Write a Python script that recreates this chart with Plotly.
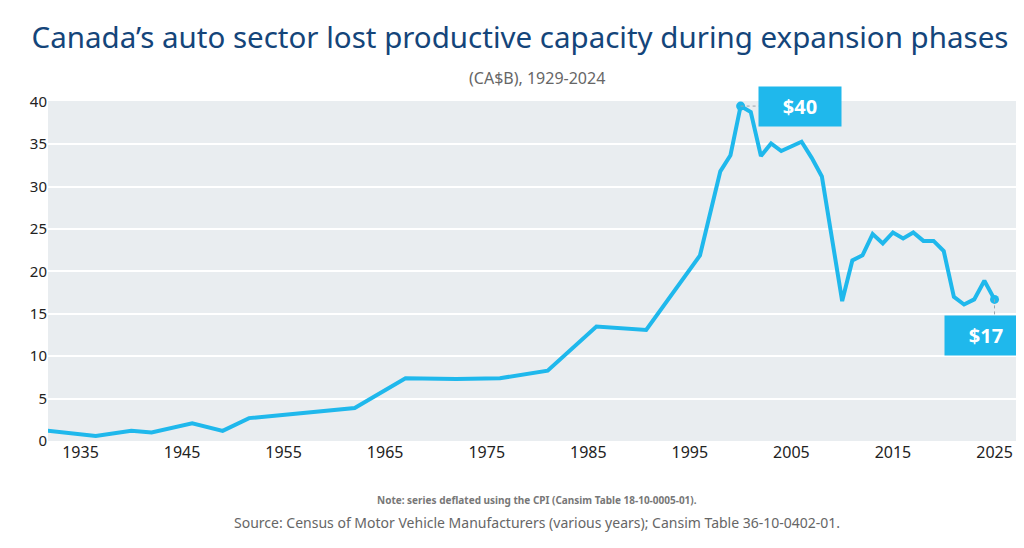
import plotly.graph_objects as go

years = [1931, 1936.5, 1940, 1942, 1946, 1949, 1951.6, 1957.4, 1962, 1967, 1972, 1976.3,
         1981, 1985.8, 1990.7, 1996, 1998, 1999, 2000, 2001, 2002, 2003, 2004, 2006,
         2007, 2008, 2010, 2011, 2012, 2013, 2014, 2015, 2016, 2017, 2018, 2019, 2020,
         2021, 2022, 2023, 2024, 2025]
values = [1.3, 0.6, 1.2, 1.0, 2.1, 1.2, 2.7, 3.4, 3.9, 7.4, 7.3, 7.4,
          8.3, 13.5, 13.1, 21.9, 31.8, 33.7, 39.5, 38.8, 33.6, 35.1, 34.2, 35.3,
          33.4, 31.2, 16.5, 21.3, 21.9, 24.4, 23.3, 24.6, 23.9, 24.6, 23.6, 23.6, 22.4,
          17.0, 16.1, 16.7, 18.9, 16.7]
peak_x, peak_y = 2000, 39.5
last_x, last_y = 2025, 16.7

blue = "#1fb8ec"
font = "Noto Sans"

fig = go.Figure()
fig.add_trace(go.Scatter(x=years, y=values, mode="lines",
                         line=dict(color=blue, width=4), hoverinfo="x+y"))
fig.add_trace(go.Scatter(x=[peak_x, last_x], y=[peak_y, last_y], mode="markers",
                         marker=dict(color=blue, size=9), hoverinfo="skip"))

# dotted leader lines to the callouts
fig.add_shape(type="line", x0=peak_x, y0=peak_y, x1=2001.8, y1=peak_y,
              line=dict(color="#9aa5ad", width=1, dash="dot"))
fig.add_shape(type="line", x0=last_x, y0=last_y, x1=last_x, y1=14.6,
              line=dict(color="#9aa5ad", width=1, dash="dot"))

for x, y, label in [(2005.8, 39.4, "$40"), (2024.2, 12.4, "$17")]:
    fig.add_annotation(x=x, y=y, xref="x", yref="y", text="<b>" + label + "</b>",
                       showarrow=False, bgcolor=blue, borderpad=6,
                       font=dict(color="white", size=20, family=font),
                       width=70)

fig.update_layout(
    width=1024, height=548,
    margin=dict(l=40, r=6, t=93, b=115),
    paper_bgcolor="white", plot_bgcolor="#e9edf0",
    showlegend=False,
    font=dict(family=font, color="#222222"),
    title=dict(text="Canada’s auto sector lost productive capacity during expansion phases",
               x=0.5, xanchor="center", y=0.945, yanchor="middle",
               font=dict(size=29.5, color="#14457a", family=font)),
    xaxis=dict(range=[1931.8, 2028.1], tickvals=list(range(1935, 2026, 10)),
               showgrid=False, zeroline=False, ticks="",
               tickfont=dict(size=16, color="#222222")),
    yaxis=dict(range=[0, 40.1], tickvals=list(range(0, 41, 5)),
               gridcolor="white", gridwidth=1.5, zeroline=False,
               tickfont=dict(size=15, color="#222222")),
)
fig.add_annotation(text="(CA$B), 1929-2024", xref="paper", yref="paper",
                   x=0.5, y=1.0, yshift=36, showarrow=False,
                   font=dict(size=16, color="#666666", family=font))
fig.add_annotation(text="<b>Note: series deflated using the CPI (Cansim Table 18-10-0005-01).</b>",
                   xref="paper", yref="paper", x=0.5, y=0, yshift=-68, showarrow=False,
                   font=dict(size=10, color="#777777", family=font))
fig.add_annotation(text="Source: Census of Motor Vehicle Manufacturers (various years); Cansim Table 36-10-0402-01.",
                   xref="paper", yref="paper", x=0.5, y=0, yshift=-93, showarrow=False,
                   font=dict(size=14, color="#666666", family=font))

fig.write_html("out.html")
